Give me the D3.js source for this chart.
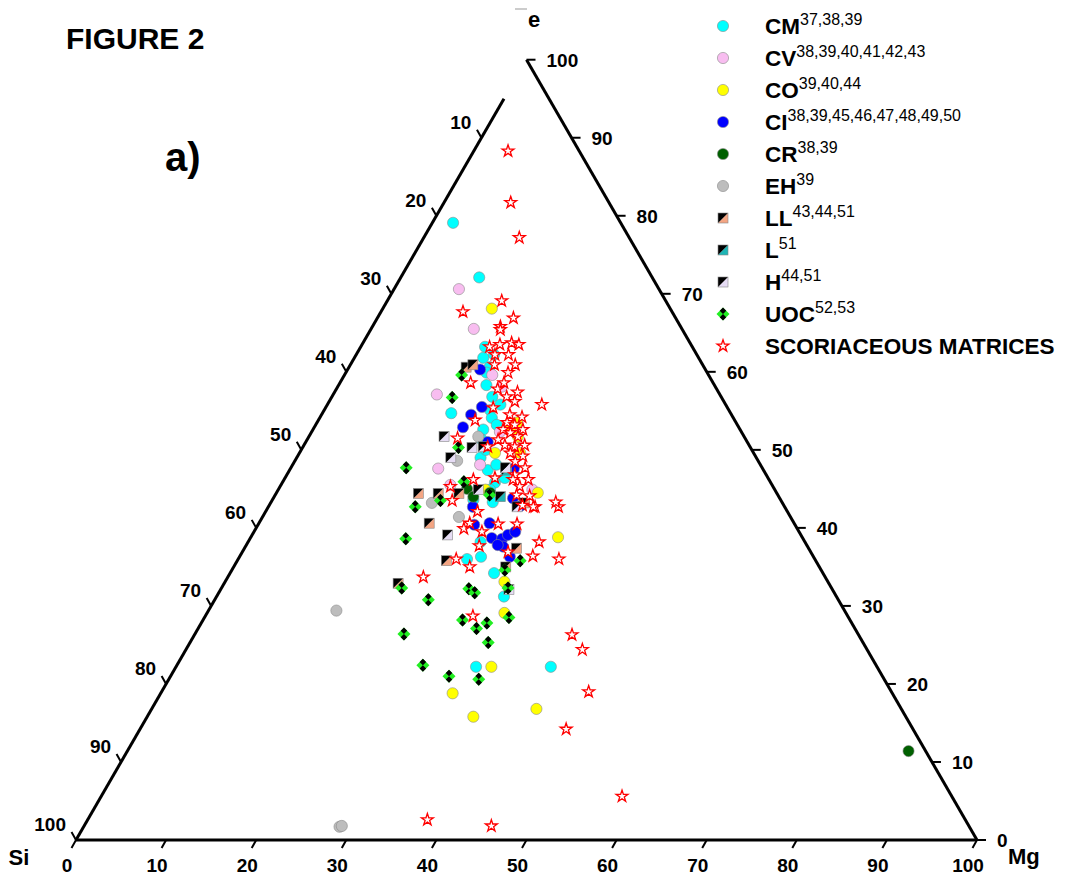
<!DOCTYPE html>
<html>
<head>
<meta charset="utf-8">
<script src="https://cdn.jsdelivr.net/npm/d3@7"></script>
<style>
  body { margin: 0; background: #fff; }
  text { font-family: Arial, "Liberation Sans", sans-serif; }
</style>
</head>
<body>
<svg id="chart" width="1066" height="878"></svg>
<script>
// values as [Mg, Fe]; Si = 100 - Mg - Fe
const CM = [[2.3,79.1],[8.7,72.1],[13.8,63.2],[14.3,61.8],[15.6,60.6],[15.6,59.9],[16.4,58.3],
  [17.8,56.8],[18.4,55.1],[19.1,54.1],[18.9,52.6],[19.4,51.3],[20.4,49.0],[14.3,54.7],[22.0,47.4],
  [23.6,45.8],[24.6,43.3],[22.3,43.6],[25.8,38.2],[26.8,36.3],[25.4,36.0],[29.3,34.2],[31.9,31.2],
  [33.3,22.2],[41.6,22.2],[20.1,53.2],[19.2,55.8],[20.5,50.0],[22.6,48.1],[24.4,46.4],[23.5,44.9],
  [15.3,62.2]];
const CV = [[7.2,70.6],[11.4,65.5],[11.5,57.1],[16.4,59.6],[18.2,58.1],[16.4,47.6],[20.8,48.1],
  [28.2,44.9],[20.9,52.3],[18.8,45.5]];
const CO = [[12.1,68.1],[22.2,53.5],[23.2,51.7],[21.7,49.6],[24.5,49.6],[29.0,44.5],[34.1,38.8],
  [31.0,33.1],[33.0,29.1],[35.0,22.2],[32.4,18.8],[36.2,15.8],[42.7,16.8],[23.0,44.9],[21.9,52.6]];
const CI = [[14.7,60.3],[17.3,55.5],[16.6,54.5],[16.5,52.9],[20.2,51.0],[24.8,47.6],[22.7,42.7],
  [26.6,43.8],[24.0,40.4],[25.6,40.6],[26.8,38.7],[28.0,38.6],[28.4,39.1],[29.0,39.5],[28.6,37.6],
  [30.0,36.3],[27.9,37.8],[27.9,42.8]];
const CR = [[20.9,45.0],[22.1,44.0],[23.7,44.5],[86.7,11.4]];
const EH = [[18.8,51.7],[18.0,48.6],[17.9,43.2],[21.8,41.4],[14.2,29.4],[28.4,1.7],[28.6,1.8]];
const LL = [[13.0,60.6],[13.6,60.9],[15.8,44.4],[18.0,44.4],[20.3,44.4],[18.9,40.6],[23.2,35.8],
  [30.2,37.4],[30.2,35.0],[19.3,32.9],[28.2,43.2]];
const L = [[24.1,47.4],[25.1,44.0]];
const H = [[15.0,51.7],[18.8,50.3],[17.1,49.0],[21.7,39.1],[22.2,44.9],[23.8,47.7],[27.6,42.7],
  [32.0,32.1],[20.0,50.4]];
const UOC = [[13.0,59.6],[13.4,56.7],[17.3,50.3],[12.8,47.7],[20.1,45.9],[16.3,42.7],[18.7,43.5],
  [23.8,44.2],[17.3,38.6],[31.4,35.8],[30.3,34.6],[20.0,32.3],[27.5,32.2],[28.4,31.7],[31.8,32.3],
  [23.7,30.8],[33.8,28.5],[28.8,28.2],[31.7,27.8],[30.9,27.1],[23.2,26.4],[33.1,25.3],[27.3,22.4],
  [30.9,21.0],[34.4,20.6]];
const SCOR = [[3.8,88.3],[7.4,81.7],[10.6,77.2],[12.7,69.1],[9.1,67.7],[15.1,66.9],[14.2,65.8],
  [23.8,55.8],[14.5,58.6],[16.6,51.5],[17.4,53.8],[21.7,33.7],[41.9,26.3],[44.0,24.4],[47.4,19.0],
  [47.3,14.2],[57.8,5.6],[37.7,2.6],[45.2,1.8],[29.7,28.7],[35.6,36.0],[32.5,36.4],[32.3,38.2],
  [29.5,36.9],[26.2,35.0],[24.2,36.0],[25.9,37.7],[25.3,39.5],[23.1,39.9],[23.4,40.6],[23.5,42.1],
  [26.6,40.5],[28.7,40.5],[20.0,43.5],[18.9,45.3],[21.0,46.2],[23.3,46.4],[32.2,42.7],[31.6,43.3],
  [29.6,42.7],[28.1,42.9],[14.3,63.2],[15.3,63.5],[16.5,63.7],[17.4,63.5],[16.9,62.2],[15.4,62.2],
  [16.0,60.9],[18.0,59.9],[17.9,57.8],[20.3,57.4],[19.4,56.8],[20.6,56.2],[18.6,55.4],[20.9,54.5],
  [22.4,54.2],[21.1,53.5],[22.1,53.2],[21.1,52.6],[22.1,52.2],[23.2,51.7],[21.2,51.3],[22.3,50.6],
  [23.5,50.4],[23.4,49.6],[25.0,49.2],[20.5,50.4],[14.4,65.4],[24.5,48.5],[26.0,47.7],[25.3,46.8],
  [27.1,46.2],[26.6,45.3],[28.3,44.1],[25.4,46.2],[26.8,44.2],[29.4,42.7],[23.3,52.6],[24.5,50.6],
  [18.3,60.9],[18.2,58.6]];

const tickValues = d3.range(0, 101, 10);

const series = [
  { name: 'CM', sup: '37,38,39', data: CM, kind: 'circle', color: '#00ffff' },
  { name: 'CV', sup: '38,39,40,41,42,43', data: CV, kind: 'circle', color: '#f8bdf0' },
  { name: 'CO', sup: '39,40,44', data: CO, kind: 'circle', color: '#ffff00' },
  { name: 'CI', sup: '38,39,45,46,47,48,49,50', data: CI, kind: 'circle', color: '#0000ff' },
  { name: 'CR', sup: '38,39', data: CR, kind: 'circle', color: '#006000' },
  { name: 'EH', sup: '39', data: EH, kind: 'circle', color: '#bdbdbd' },
  { name: 'LL', sup: '43,44,51', data: LL, kind: 'square', color: '#f4a583' },
  { name: 'L', sup: '51', data: L, kind: 'square', color: '#1fb5b5' },
  { name: 'H', sup: '44,51', data: H, kind: 'square', color: '#e6dcf4' },
  { name: 'UOC', sup: '52,53', data: UOC, kind: 'diamond', color: '#22ee22' },
  { name: 'SCORIACEOUS MATRICES', sup: '', data: SCOR, kind: 'star', color: '#ff0000' }
];

const svg = d3.select('#chart');

const x0 = 76, x1 = 977, y0 = 840;
const side = x1 - x0;
const h = side * Math.sqrt(3) / 2;

const bx = d3.scaleLinear().domain([0, 100]).range([x0, x1]);
const hy = d3.scaleLinear().domain([0, 100]).range([y0, y0 - h]);

function pos(mg, fe) {
  return [bx(mg + fe / 2), hy(fe)];
}

////////// AXES //////////

const axis = svg.append('g').attr('stroke', '#000').attr('fill', 'none');
const lineGen = d3.line();

// bottom (Mg), right (Fe), left (Si, stops short of the apex)
axis.append('path').attr('stroke-width', 3).attr('d', lineGen([pos(0, 0), pos(100, 0)]));
axis.append('path').attr('stroke-width', 3).attr('d', lineGen([pos(100, 0), pos(0, 100)]));
axis.append('path').attr('stroke-width', 3).attr('d', lineGen([pos(0, 0), pos(0, 95)]));

const labels = svg.append('g').attr('font-size', 19).attr('font-weight', 'bold');

tickValues.forEach((v) => {
  // bottom
  let p = pos(v, 0);
  axis.append('path').attr('stroke-width', 2)
    .attr('d', lineGen([p, [p[0] - 4.5, p[1] + 8]]));
  labels.append('text').attr('x', p[0] - 9).attr('y', p[1] + 25).attr('dy', '0.36em')
    .attr('text-anchor', 'middle').text(v);

  // right
  p = pos(100 - v, v);
  axis.append('path').attr('stroke-width', 2)
    .attr('d', lineGen([p, [p[0] + 9, p[1]]]));
  labels.append('text').attr('x', p[0] + 20).attr('y', p[1]).attr('dy', '0.36em').text(v);

  // left
  if (v > 0) {
    p = pos(0, 100 - v);
    axis.append('path').attr('stroke-width', 2)
      .attr('d', lineGen([p, [p[0] - 4.5, p[1] - 8]]));
    labels.append('text').attr('x', p[0] - 10).attr('y', p[1] - 16).attr('dy', '0.36em')
      .attr('text-anchor', 'end').text(v);
  }
});

svg.append('text').attr('x', 19).attr('y', 857).attr('dy', '0.36em').attr('text-anchor', 'middle')
  .attr('font-size', 22).attr('font-weight', 'bold').text('Si');
svg.append('text').attr('x', 1008).attr('y', 856).attr('dy', '0.36em')
  .attr('font-size', 22).attr('font-weight', 'bold').text('Mg');
svg.append('text').attr('x', 528).attr('y', 27)
  .attr('font-size', 22).attr('font-weight', 'bold').text('e');
svg.append('line').attr('x1', 515).attr('x2', 527).attr('y1', 9).attr('y2', 9)
  .attr('stroke', '#999').attr('stroke-width', 1);

svg.append('text').attr('x', 66).attr('y', 49)
  .attr('font-size', 30).attr('font-weight', 'bold').text('FIGURE 2');
svg.append('text').attr('x', 165).attr('y', 171)
  .attr('font-size', 40).attr('font-weight', 'bold').text('a)');

////////// MARKERS //////////

const star = d3.symbol(d3.symbolStar).size(44)();

function drawMarker(g, s) {
  if (s.kind === 'circle') {
    g.append('circle').attr('r', 5.6).attr('fill', s.color)
      .attr('stroke', '#8a8a8a').attr('stroke-width', 0.6);
  } else if (s.kind === 'square') {
    const a = 5;
    g.append('path').attr('fill', s.color)
      .attr('d', `M${a},${-a}L${a},${a}L${-a},${a}Z`);
    g.append('path').attr('fill', '#000')
      .attr('d', `M${-a},${-a}L${a},${-a}L${-a},${a}Z`);
    g.append('rect').attr('x', -a).attr('y', -a).attr('width', 2 * a).attr('height', 2 * a)
      .attr('fill', 'none').attr('stroke', '#888').attr('stroke-width', 0.6);
  } else if (s.kind === 'diamond') {
    const r = 6.5, m = r / 2;
    g.append('path').attr('fill', s.color)
      .attr('d', `M0,${-r}L${r},0L0,${r}L${-r},0Z`);
    g.append('path').attr('fill', '#000')
      .attr('d', `M0,0L${-m},${-m}L0,${-r}L${m},${-m}Z M0,0L${m},${m}L0,${r}L${-m},${m}Z`);
  } else {
    g.append('path').attr('d', star).attr('fill', '#fff')
      .attr('stroke', s.color).attr('stroke-width', 1.3);
  }
}

const plot = svg.append('g');
series.forEach((s) => {
  plot.selectAll(null)
    .data(s.data)
    .enter()
    .append('g')
    .attr('transform', (d) => {
      const p = pos(d[0], d[1]);
      return `translate(${p[0]},${p[1]})`;
    })
    .each(function () { drawMarker(d3.select(this), s); });
});

////////// LEGEND //////////

const legend = svg.append('g');
series.forEach((s, i) => {
  const y = 26 + i * 32;
  drawMarker(legend.append('g').attr('transform', `translate(723,${y})`), s);
  const t = legend.append('text').attr('x', 765).attr('y', y + 8)
    .attr('font-size', 22.5).attr('font-weight', 'bold');
  t.append('tspan').text(s.name);
  if (s.sup) {
    t.append('tspan').attr('font-size', 16).attr('font-weight', 'normal')
      .attr('dy', -9).text(s.sup);
  }
});
</script>
</body>
</html>
